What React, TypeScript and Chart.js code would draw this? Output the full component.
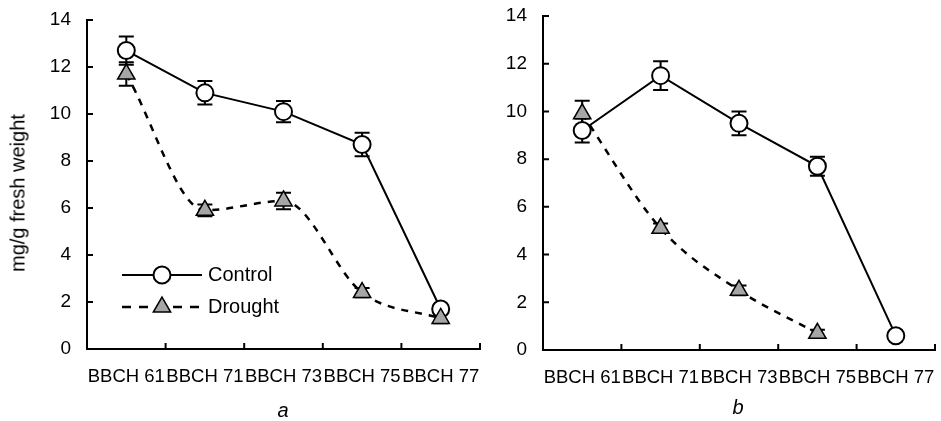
import React, { useEffect, useRef } from "react";
import { Chart, registerables } from "chart.js";

Chart.register(...registerables);

const categories = ["BBCH 61", "BBCH 71", "BBCH 73", "BBCH 75", "BBCH 77"];
const yTickValues = [0, 2, 4, 6, 8, 10, 12, 14];

const controlA = [12.7, 10.9, 10.1, 8.7, 1.7];
const controlAErr = [0.6, 0.5, 0.45, 0.5, 0];
const droughtA = [11.7, 5.9, 6.3, 2.4, 1.3];
const droughtAErr = [0.5, 0.25, 0.35, 0.2, 0.2];

const controlB = [9.2, 11.5, 9.5, 7.7, 0.6];
const controlBErr = [0.5, 0.6, 0.5, 0.4, 0];
const droughtB = [9.9, 5.1, 2.5, 0.7, null];
const droughtBErr = [0.55, 0.2, 0.2, 0.15, 0];

const FONT = "'Liberation Sans', Arial, sans-serif";

const errorBarPlugin = {
  id: "errorBars",
  beforeDatasetsDraw(chart: any) {
    const ctx = chart.ctx;
    const y = chart.scales.y;
    ctx.save();
    ctx.strokeStyle = "#000";
    ctx.lineWidth = 2;
    chart.data.datasets.forEach((ds: any, i: number) => {
      const meta = chart.getDatasetMeta(i);
      const errs = ds.errors || [];
      meta.data.forEach((pt: any, j: number) => {
        const v = ds.data[j];
        const e = errs[j];
        if (v == null || !e) return;
        const yt = y.getPixelForValue(v + e);
        const yb = y.getPixelForValue(v - e);
        const x = pt.x;
        const cap = 7.5;
        ctx.beginPath();
        ctx.moveTo(x, yt);
        ctx.lineTo(x, yb);
        ctx.moveTo(x - cap, yt);
        ctx.lineTo(x + cap, yt);
        ctx.moveTo(x - cap, yb);
        ctx.lineTo(x + cap, yb);
        ctx.stroke();
      });
    });
    ctx.restore();
  },
};

const innerTicksPlugin = {
  id: "innerTicks",
  afterDraw(chart: any) {
    const ctx = chart.ctx;
    const xs = chart.scales.x;
    const ys = chart.scales.y;
    const area = chart.chartArea;
    ctx.save();
    ctx.strokeStyle = "#000";
    ctx.lineWidth = 2;
    ctx.beginPath();
    yTickValues.forEach((v) => {
      const py = ys.getPixelForValue(v);
      ctx.moveTo(area.left, py);
      ctx.lineTo(area.left + 6, py);
    });
    const n = categories.length;
    for (let i = 0; i <= n; i++) {
      const px = xs.left + (i * xs.width) / n;
      ctx.moveTo(px, area.bottom);
      ctx.lineTo(px, area.bottom - 6);
    }
    ctx.stroke();
    ctx.restore();
  },
};

const legendPlugin = {
  id: "customLegend",
  afterDraw(chart: any, _args: any, opts: any) {
    if (!opts || !opts.show) return;
    const ctx = chart.ctx;
    const area = chart.chartArea;
    const x0 = area.left + 35;
    const x1 = area.left + 115;
    const xm = area.left + 75;
    const tx = area.left + 121;
    const rows = [
      { y: area.top + 255, ds: chart.data.datasets[0], dash: [] as number[] },
      { y: area.top + 287, ds: chart.data.datasets[1], dash: [9, 8] },
    ];
    ctx.save();
    rows.forEach((r) => {
      const ds = r.ds;
      ctx.strokeStyle = "#000";
      ctx.lineWidth = ds.borderWidth;
      ctx.setLineDash(r.dash);
      ctx.beginPath();
      ctx.moveTo(x0, r.y);
      ctx.lineTo(x1, r.y);
      ctx.stroke();
      ctx.setLineDash([]);
      ctx.fillStyle = ds.pointBackgroundColor;
      ctx.lineWidth = ds.pointBorderWidth;
      ctx.beginPath();
      if (ds.pointStyle === "circle") {
        ctx.arc(xm, r.y, ds.pointRadius, 0, Math.PI * 2);
      } else {
        const rr = ds.pointRadius;
        ctx.moveTo(xm, r.y - rr);
        ctx.lineTo(xm + rr * 0.866, r.y + rr * 0.5);
        ctx.lineTo(xm - rr * 0.866, r.y + rr * 0.5);
        ctx.closePath();
      }
      ctx.fill();
      ctx.stroke();
      ctx.fillStyle = "#000";
      ctx.font = `20px ${FONT}`;
      ctx.textBaseline = "middle";
      ctx.textAlign = "left";
      ctx.fillText(ds.label, tx, r.y);
    });
    ctx.restore();
  },
};

type PanelProps = {
  control: (number | null)[];
  controlErr: number[];
  drought: (number | null)[];
  droughtErr: number[];
  showLegend: boolean;
  width: number;
  height: number;
  yWidth: number;
  xHeight: number;
  padRight: number;
  padTop: number;
};

function Panel(p: PanelProps) {
  const ref = useRef<HTMLCanvasElement>(null);
  useEffect(() => {
    if (!ref.current) return;
    const chart = new Chart(ref.current, {
      type: "line",
      data: {
        labels: categories,
        datasets: [
          {
            label: "Control",
            data: p.control,
            errors: p.controlErr,
            borderColor: "#000",
            borderWidth: 2,
            pointStyle: "circle",
            pointRadius: 8.5,
            pointHoverRadius: 8.5,
            pointBackgroundColor: "#fff",
            pointBorderColor: "#000",
            pointBorderWidth: 2,
            tension: 0,
            fill: false,
            order: 1,
          } as any,
          {
            label: "Drought",
            data: p.drought,
            errors: p.droughtErr,
            borderColor: "#000",
            borderWidth: 2.5,
            borderDash: [7, 7],
            pointStyle: "triangle",
            pointRadius: 10,
            pointHoverRadius: 10,
            pointBackgroundColor: "#a6a6a6",
            pointBorderColor: "#000",
            pointBorderWidth: 1.5,
            cubicInterpolationMode: "monotone",
            fill: false,
            spanGaps: false,
            order: 0,
          } as any,
        ],
      },
      options: {
        responsive: false,
        animation: false,
        events: [],
        layout: {
          autoPadding: false,
          padding: { left: 0, right: p.padRight, top: p.padTop, bottom: 0 },
        },
        plugins: {
          legend: { display: false },
          tooltip: { enabled: false },
          customLegend: { show: p.showLegend },
        } as any,
        scales: {
          x: {
            type: "category",
            offset: true,
            grid: { drawOnChartArea: false, drawTicks: false, color: "transparent", offset: true },
            border: { display: true, color: "#000", width: 2 },
            ticks: {
              autoSkip: false,
              maxRotation: 0,
              minRotation: 0,
              padding: 17,
              color: "#000",
              font: { family: FONT, size: 18.5 },
            },
            afterFit: (s: any) => {
              s.height = p.xHeight;
              s.paddingLeft = 0;
              s.paddingRight = 0;
            },
          },
          y: {
            min: 0,
            max: 14,
            grid: { drawOnChartArea: false, drawTicks: false, color: "transparent" },
            border: { display: true, color: "#000", width: 2 },
            ticks: {
              stepSize: 2,
              padding: 16,
              color: "#000",
              font: { family: FONT, size: 19 },
            },
            afterFit: (s: any) => {
              s.width = p.yWidth;
              s.paddingTop = 0;
              s.paddingBottom = 0;
            },
          },
        },
      },
      plugins: [errorBarPlugin, innerTicksPlugin, legendPlugin],
    } as any);
    return () => chart.destroy();
  }, []);
  return <canvas ref={ref} width={p.width} height={p.height} style={{ display: "block" }} />;
}

export default function App() {
  return (
    <div
      style={{
        position: "absolute",
        left: 0,
        top: 0,
        width: 941,
        height: 421,
        background: "#fff",
        overflow: "hidden",
        fontFamily: FONT,
      }}
    >
      <div style={{ position: "absolute", left: 0, top: 0 }}>
        <Panel
          control={controlA}
          controlErr={controlAErr}
          drought={droughtA}
          droughtErr={droughtAErr}
          showLegend={true}
          width={485}
          height={421}
          yWidth={87}
          xHeight={72}
          padRight={5}
          padTop={20}
        />
      </div>
      <div style={{ position: "absolute", left: 470, top: 0 }}>
        <Panel
          control={controlB}
          controlErr={controlBErr}
          drought={droughtB}
          droughtErr={droughtBErr}
          showLegend={false}
          width={471}
          height={421}
          yWidth={73}
          xHeight={71}
          padRight={6}
          padTop={16}
        />
      </div>
      <div
        style={{
          position: "absolute",
          left: 18,
          top: 193,
          transform: "translate(-50%, -50%) rotate(-90deg)",
          whiteSpace: "nowrap",
          fontSize: 20,
          color: "#000",
        }}
      >
        mg/g fresh weight
      </div>
      <div
        style={{
          position: "absolute",
          left: 283,
          top: 410,
          transform: "translate(-50%, -50%)",
          fontSize: 20,
          fontStyle: "italic",
          color: "#000",
        }}
      >
        a
      </div>
      <div
        style={{
          position: "absolute",
          left: 738,
          top: 407,
          transform: "translate(-50%, -50%)",
          fontSize: 20,
          fontStyle: "italic",
          color: "#000",
        }}
      >
        b
      </div>
    </div>
  );
}
